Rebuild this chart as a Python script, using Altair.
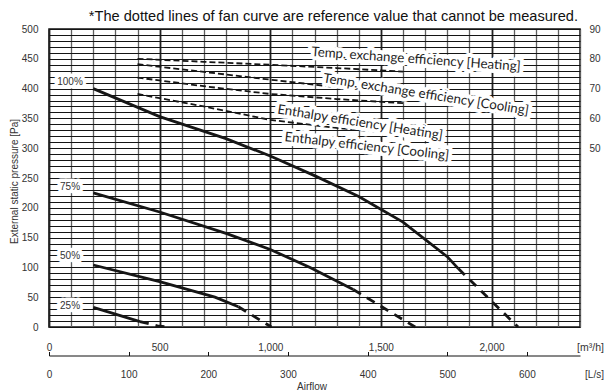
import altair as alt
import pandas as pd

# ------------------------------------------------------------------ data
fan_levels = ["100%", "75%", "50%", "25%"]

# measured part of each fan curve (solid): airflow [m3/h] / pressure [Pa]
q_100 = [200, 500, 800, 1000, 1200, 1400, 1600, 1800, 1850]
p_100 = [400, 353, 316, 287, 254, 219, 176, 118, 98]
q_75 = [200, 500, 800, 1000, 1180, 1375]
p_75 = [225, 193, 157, 130, 100, 63]
q_50 = [200, 500, 750, 856]
p_50 = [104, 76, 50, 34]
q_25 = [200, 411]
p_25 = [33, 9]

# reference part of each fan curve (dotted, cannot be measured)
qr_100 = [1850, 1990, 2120]
pr_100 = [98, 47, 0]
qr_75 = [1375, 1655]
pr_75 = [63, 0]
qr_50 = [856, 1005]
pr_50 = [34, 0]
qr_25 = [411, 490, 535]
pr_25 = [9, 2, 0]

# fan-speed labels (airflow, pressure where they sit)
fan_label_q = [95, 95, 95, 95]
fan_label_p = [411, 235, 119, 35]

# efficiency curves: airflow [m3/h] / efficiency [%]
eff_names = [
    "Temp. exchange efficiency [Heating]",
    "Temp. exchange efficiency [Cooling]",
    "Enthalpy efficiency [Heating]",
    "Enthalpy efficiency [Cooling]",
]
eff_q = [400, 700, 1000, 1300, 1600]
eff_temp_heat = [80.0, 79.0, 78.0, 76.9, 75.7]
eff_temp_cool = [78.2, 75.6, 73.0, 70.5, 68.1]
eff_enth_heat = [73.7, 70.8, 68.2, 66.5, 65.1]
eff_enth_cool = [68.2, 64.0, 59.5, 56.8, 54.8]

# efficiency labels (airflow, efficiency where they sit)
eff_label_q = [1659, 1704, 1406, 1437]
eff_label_v = [79.8, 68.0, 58.6, 50.6]

m3h_grid = list(range(0, 2401, 100))
pa_grid = list(range(0, 501, 10))
eff_ticks = [50, 60, 70, 80, 90]
ls_ticks = [0, 100, 200, 300, 400, 500, 600]

note_text = "*The dotted lines of fan curve are reference value that cannot be measured."

# ------------------------------------------------------------------ styles
FONT = "Liberation Sans"
LFONT = "Lato"
label_angles = [4, 9, 9, 6.5]


def fan_df(qs, ps):
    rows = []
    for lvl, q, p in zip(fan_levels, qs, ps):
        rows += [{"level": lvl, "q": a, "p": b} for a, b in zip(q, p)]
    return pd.DataFrame(rows)


solid_df = fan_df([q_100, q_75, q_50, q_25], [p_100, p_75, p_50, p_25])
ref_df = fan_df([qr_100, qr_75, qr_50, qr_25], [pr_100, pr_75, pr_50, pr_25])

eff_rows = []
for name, vals in zip(eff_names, [eff_temp_heat, eff_temp_cool, eff_enth_heat, eff_enth_cool]):
    eff_rows += [{"series": name, "q": a, "v": b} for a, b in zip(eff_q, vals)]
eff_df = pd.DataFrame(eff_rows)

fan_lab_df = pd.DataFrame({"t": fan_levels, "q": fan_label_q, "p": fan_label_p})
eff_lab_df = pd.DataFrame({"t": eff_names, "q": eff_label_q, "v": eff_label_v, "a": label_angles})


def xs():
    return alt.Scale(domain=[0, 2400], nice=False, zero=False)


def ys():
    return alt.Scale(domain=[0, 500], nice=False, zero=False)


def es():
    return alt.Scale(domain=[-10, 90], nice=False, zero=False)


x_axis = alt.Axis(
    orient="bottom", values=m3h_grid,
    labelExpr="datum.value % 500 == 0 && datum.value <= 2000 ? format(datum.value, ',') : ''",
    ticks=False, domain=False, grid=True,
    gridColor={"condition": {"test": "datum.value % 500 == 0", "value": "#222222"}, "value": "#616161"},
    gridWidth={"condition": {"test": "datum.value % 500 == 0", "value": 1.8}, "value": 1.3},
    labelFont=FONT, labelFontSize=10, labelColor="#333", labelPadding=15,
    labelFlush=False, labelOverlap=False,
    title="[m³/h]", titleFont=FONT, titleFontSize=10.5, titleFontWeight="normal", titleColor="#333",
    titleX=541, titleY=20, titleAlign="center", titleBaseline="middle",
)

y_axis = alt.Axis(
    orient="left", values=pa_grid,
    labelExpr="datum.value % 50 == 0 ? datum.label : ''",
    ticks=False, domain=False, grid=True,
    gridColor="#141414", gridWidth=1,
    labelFont=FONT, labelFontSize=10, labelColor="#333", labelPadding=11,
    labelOverlap=False, labelFlush=False,
    title="External static pressure [Pa]", titleFont=FONT, titleFontSize=10,
    titleFontWeight="normal", titleColor="#333",
    titleX=-35, titleY=152, titleAngle=270, titleAlign="center", titleBaseline="middle",
)

eff_axis = alt.Axis(
    orient="right", values=eff_ticks, ticks=False, domain=False, grid=False,
    labelFont=FONT, labelFontSize=10, labelColor="#333", labelPadding=9,
    labelOverlap=False, labelFlush=False, title=None,
)

ls_axis = alt.Axis(
    orient="bottom", offset=28.5, values=ls_ticks, grid=False,
    domain=True, domainColor="#111", domainWidth=1,
    ticks=True, tickSize={"expr": "-4"}, tickColor="#111", tickWidth=1,
    labelFont=FONT, labelFontSize=10, labelColor="#333", labelPadding=17.5,
    labelFlush=False, labelOverlap=False,
    title="[L/s]", titleFont=FONT, titleFontSize=10, titleFontWeight="normal", titleColor="#333",
    titleX=545, titleY=18.5, titleAlign="center", titleBaseline="middle",
)

solid = alt.Chart(solid_df).mark_line(color="#161616", strokeWidth=2.8).encode(
    x=alt.X("q:Q", scale=xs(), axis=x_axis),
    y=alt.Y("p:Q", scale=ys(), axis=y_axis),
    detail="level:N",
)

ref = alt.Chart(ref_df).mark_line(color="#161616", strokeWidth=2.8, strokeDash=[9, 7]).encode(
    x=alt.X("q:Q", scale=xs(), axis=None),
    y=alt.Y("p:Q", scale=ys(), axis=None),
    detail="level:N",
)

eff = alt.Chart(eff_df).mark_line(color="#161616", strokeWidth=1.8, strokeDash=[6, 3]).encode(
    x=alt.X("q:Q", scale=xs(), axis=None),
    y=alt.Y("v:Q", scale=es(), axis=eff_axis),
    detail="series:N",
)

fan_halo = alt.Chart(fan_lab_df).mark_text(
    font=FONT, fontSize=10, color="white", stroke="white", strokeWidth=7, strokeJoin="round"
).encode(
    x=alt.X("q:Q", scale=xs(), axis=None),
    y=alt.Y("p:Q", scale=ys(), axis=None),
    text="t:N",
)
fan_text = alt.Chart(fan_lab_df).mark_text(font=FONT, fontSize=10, color="#333").encode(
    x=alt.X("q:Q", scale=xs(), axis=None),
    y=alt.Y("p:Q", scale=ys(), axis=None),
    text="t:N",
)

eff_halo = alt.Chart(eff_lab_df).mark_text(
    font=LFONT, fontSize=13.3, color="white", stroke="white", strokeWidth=8, strokeJoin="round"
).encode(
    x=alt.X("q:Q", scale=xs(), axis=None),
    y=alt.Y("v:Q", scale=es(), axis=None),
    angle=alt.Angle("a:Q", scale=None),
    text="t:N",
)
eff_text = alt.Chart(eff_lab_df).mark_text(font=LFONT, fontSize=13.3, color="#1e1e1e").encode(
    x=alt.X("q:Q", scale=xs(), axis=None),
    y=alt.Y("v:Q", scale=es(), axis=None),
    angle=alt.Angle("a:Q", scale=None),
    text="t:N",
)

ls_layer = alt.Chart(pd.DataFrame({"ls": ls_ticks})).mark_point(opacity=0).encode(
    x=alt.X("ls:Q", scale=alt.Scale(domain=[0, 2400 / 3.6], nice=False, zero=False), axis=ls_axis),
)

note = alt.Chart(alt.Data(values=[{"t": note_text}])).mark_text(
    align="right", baseline="alphabetic", font=FONT, fontSize=14.6, color="#111"
).encode(x=alt.value(529), y=alt.value(-8.5), text="t:N")

airflow = alt.Chart(alt.Data(values=[{"t": "Airflow"}])).mark_text(
    align="center", baseline="middle", font=FONT, fontSize=10, color="#333"
).encode(x=alt.value(263), y=alt.value(358), text="t:N")

chart = (
    alt.layer(solid, ref, eff, fan_halo, fan_text, eff_halo, eff_text, ls_layer, note, airflow)
    .resolve_scale(x="independent", y="independent")
    .properties(
        width=531, height=298,
        padding={"left": 41, "top": 21, "right": 24, "bottom": 65},
        autosize=alt.AutoSizeParams(type="none"),
    )
    .configure_view(stroke="#111", strokeWidth=1.5)
)

chart.save("out.html", embed_options={"renderer": "svg", "actions": False})
